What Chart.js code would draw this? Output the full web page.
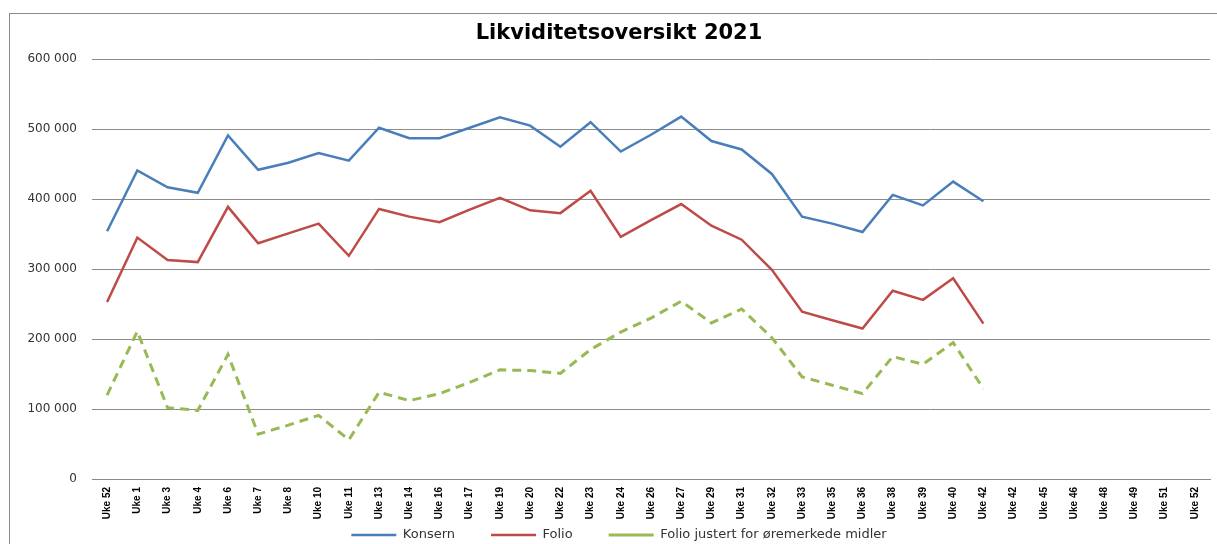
<!DOCTYPE html>
<html>
<head>
<meta charset="utf-8">
<script src="https://cdn.jsdelivr.net/npm/chart.js@4/dist/chart.umd.min.js"></script>
<style>
	html, body { margin: 0; padding: 0; background: #fff; }
	#wrap { width: 1217px; height: 544px; position: relative; }
</style>
</head>
<body>
<div id="wrap"><canvas id="likviditet"></canvas></div>
<script>
// uker på x-aksen
var weeks = ['Uke 52', 'Uke 1', 'Uke 3', 'Uke 4', 'Uke 6', 'Uke 7', 'Uke 8', 'Uke 10', 'Uke 11', 'Uke 13',
	'Uke 14', 'Uke 16', 'Uke 17', 'Uke 19', 'Uke 20', 'Uke 22', 'Uke 23', 'Uke 24', 'Uke 26', 'Uke 27',
	'Uke 29', 'Uke 31', 'Uke 32', 'Uke 33', 'Uke 35', 'Uke 36', 'Uke 38', 'Uke 39', 'Uke 40', 'Uke 42',
	'Uke 42', 'Uke 45', 'Uke 46', 'Uke 48', 'Uke 49', 'Uke 51', 'Uke 52'];

var konsern = [354000, 441000, 417000, 409000, 491000, 442000, 452000, 466000, 455000, 502000,
	487000, 487000, 502000, 517000, 505000, 475000, 510000, 468000, 492000, 518000,
	483000, 471000, 436000, 375000, 365000, 353000, 406000, 391000, 425000, 397000];

var folio = [253000, 345000, 313000, 310000, 389000, 337000, 351000, 365000, 319000, 386000,
	375000, 367000, 385000, 402000, 384000, 380000, 412000, 346000, 370000, 393000,
	362000, 342000, 299000, 239000, 227000, 215000, 269000, 256000, 287000, 222000];

var folioJustert = [120000, 211000, 102000, 98000, 178000, 64000, 77000, 91000, 56000, 124000,
	112000, 122000, 138000, 156000, 155000, 151000, 185000, 210000, 230000, 254000,
	223000, 243000, 202000, 146000, 134000, 122000, 175000, 164000, 195000, 129000];

var yTicks = [0, 100000, 200000, 300000, 400000, 500000, 600000];

function formatNumber(v) {
	return String(v).replace(/\B(?=(\d{3})+(?!\d))/g, ' ');
}

// ramme rundt hele diagrammet
var framePlugin = {
	id: 'frame',
	beforeDraw(chart) {
		var ctx = chart.ctx;
		ctx.save();
		ctx.strokeStyle = '#8a8a8a';
		ctx.lineWidth = 1;
		ctx.strokeRect(9.5, 13.5, chart.width + 20, chart.height + 20);
		ctx.restore();
	}
};

// flytter tittel og forklaring litt, som i Excel-originalen
var nudgePlugin = {
	id: 'nudge',
	afterLayout(chart) {
		var lg = chart.legend;
		if (lg) {
			lg.top -= 29.5;
			lg.bottom -= 29.5;
			lg.left += 14;
			lg.right += 14;
		}
		var tb = chart.titleBlock;
		if (tb) {
			tb.left += 14;
			tb.right += 14;
		}
	}
};

var ctx = document.getElementById('likviditet');
var theChart = new Chart(ctx, {
	type: 'line',
	data: {
		labels: weeks,
		datasets: [
			{
				label: 'Konsern',
				data: konsern,
				borderColor: '#4A7EBB',
				backgroundColor: '#4A7EBB',
				borderWidth: 2.5,
				pointRadius: 0,
				tension: 0
			},
			{
				label: 'Folio',
				data: folio,
				borderColor: '#BE4B48',
				backgroundColor: '#BE4B48',
				borderWidth: 2.5,
				pointRadius: 0,
				tension: 0
			},
			{
				label: 'Folio justert for øremerkede midler',
				data: folioJustert,
				borderColor: '#98B954',
				backgroundColor: '#98B954',
				borderWidth: 3,
				borderDash: [9, 6],
				pointRadius: 0,
				tension: 0
			}
		]
	},
	options: {
		responsive: true,
		maintainAspectRatio: false,
		animation: false,
		layout: {
			padding: { left: 0, right: 7, top: 0, bottom: -37 }
		},
		plugins: {
			title: {
				display: true,
				text: 'Likviditetsoversikt 2021',
				color: '#000',
				font: { family: 'DejaVu Sans', size: 21, weight: 'bold' },
				padding: { top: 21, bottom: 13 }
			},
			legend: {
				position: 'bottom',
				labels: {
					color: '#333',
					font: { family: 'DejaVu Sans', size: 13 },
					boxWidth: 45,
					boxHeight: 0,
					padding: 36
				}
			},
			tooltip: { enabled: false }
		},
		scales: {
			x: {
				offset: true,
				grid: { display: false, drawTicks: false },
				border: { display: true, color: '#8a8a8a', width: 1 },
				ticks: {
					autoSkip: false,
					minRotation: 90,
					maxRotation: 90,
					padding: 8,
					color: '#000',
					font: { family: 'Liberation Sans', size: 10, weight: 'bold' }
				},
				afterFit(scale) { scale.height = 43; }
			},
			y: {
				min: 0,
				max: 600000,
				afterBuildTicks(scale) {
					scale.ticks = yTicks.map(function (v) { return { value: v }; });
				},
				grid: { color: '#8c8c8c', lineWidth: 1, drawTicks: false },
				border: { display: false },
				ticks: {
					padding: 15,
					color: '#333',
					font: { family: 'DejaVu Sans', size: 12 },
					callback: function (v) { return formatNumber(v); }
				},
				afterFit(scale) { scale.width = 92; }
			}
		}
	},
	plugins: [framePlugin, nudgePlugin]
});
</script>
</body>
</html>
